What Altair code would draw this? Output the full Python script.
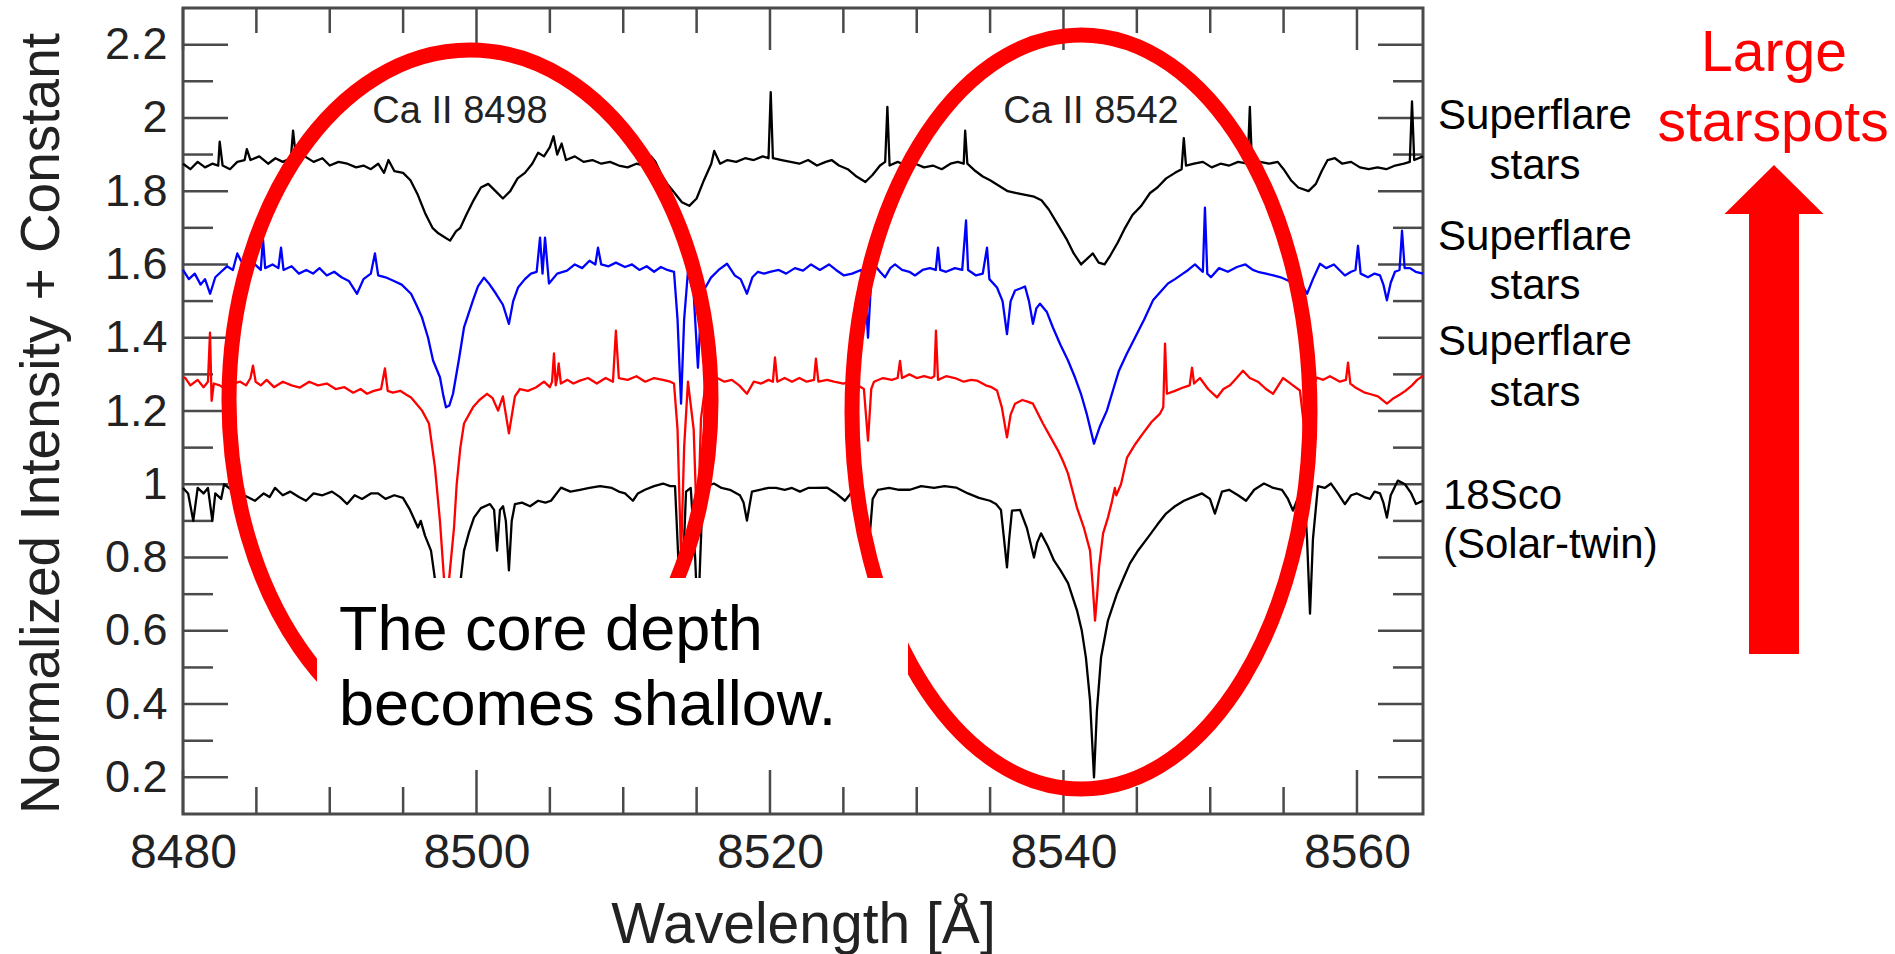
import altair as alt
import pandas as pd

FONT = "Liberation Sans"

# ---------------- axis definitions ----------------
X_DOMAIN = [8480, 8564.5]
Y_DOMAIN = [0.1, 2.3]
X_MAJOR = [8480, 8500, 8520, 8540, 8560]
X_MINOR = [8485, 8490, 8495, 8505, 8510, 8515, 8525, 8530, 8535, 8545, 8550, 8555]
Y_MAJOR = [0.2, 0.4, 0.6, 0.8, 1.0, 1.2, 1.4, 1.6, 1.8, 2.0, 2.2]
Y_MINOR = [0.3, 0.5, 0.7, 0.9, 1.1, 1.3, 1.5, 1.7, 1.9, 2.1]

# ---------------- spectra (wavelength [A], normalized intensity + constant) ----------------
SPEC_TOP = [(8480.0,1.875),(8480.5,1.86),(8481.0,1.88),(8481.5,1.865),(8482.0,1.875),(8482.4,1.87),(8482.5,1.935),(8482.7,1.87),(8483.2,1.86),(8483.7,1.88),(8484.2,1.885),(8484.35,1.915),(8484.6,1.885),(8485.2,1.895),(8485.8,1.875),(8486.3,1.89),(8486.8,1.88),(8487.35,1.89),(8487.5,1.965),(8487.7,1.89),(8488.3,1.895),(8488.9,1.88),(8489.5,1.89),(8490.0,1.87),(8490.6,1.88),(8491.2,1.875),(8491.8,1.865),(8492.3,1.87),(8492.8,1.86),(8493.3,1.875),(8493.7,1.85),(8494.0,1.885),(8494.4,1.855),(8495.0,1.85),(8495.5,1.83),(8496.0,1.79),(8496.5,1.74),(8497.0,1.70),(8497.4,1.685),(8497.8,1.675),(8498.2,1.665),(8498.6,1.69),(8498.9,1.70),(8499.3,1.735),(8499.8,1.775),(8500.3,1.81),(8500.8,1.82),(8501.3,1.80),(8501.8,1.78),(8502.3,1.80),(8502.8,1.835),(8503.3,1.85),(8503.8,1.875),(8504.2,1.905),(8504.6,1.895),(8505.0,1.92),(8505.25,1.95),(8505.5,1.90),(8505.8,1.93),(8506.1,1.885),(8506.7,1.895),(8507.3,1.88),(8507.9,1.885),(8508.5,1.875),(8509.1,1.88),(8509.7,1.87),(8510.3,1.865),(8510.9,1.875),(8511.4,1.87),(8511.9,1.895),(8512.2,1.88),(8512.6,1.845),(8513.0,1.82),(8513.5,1.795),(8514.0,1.77),(8514.5,1.76),(8515.0,1.78),(8515.5,1.83),(8516.0,1.875),(8516.2,1.91),(8516.6,1.875),(8517.1,1.885),(8517.7,1.88),(8518.3,1.89),(8518.9,1.885),(8519.5,1.895),(8519.9,1.89),(8520.05,2.07),(8520.2,1.89),(8520.8,1.885),(8521.4,1.88),(8522.0,1.875),(8522.6,1.885),(8523.2,1.87),(8523.8,1.88),(8524.2,1.885),(8524.7,1.87),(8525.3,1.86),(8525.9,1.84),(8526.5,1.825),(8527.0,1.845),(8527.5,1.87),(8527.85,1.88),(8528.0,2.03),(8528.15,1.87),(8528.7,1.88),(8529.3,1.87),(8529.9,1.875),(8530.5,1.865),(8531.1,1.87),(8531.7,1.86),(8532.3,1.875),(8532.8,1.88),(8533.2,1.875),(8533.3,1.965),(8533.45,1.875),(8534.0,1.855),(8534.5,1.84),(8535.0,1.83),(8535.6,1.815),(8536.2,1.80),(8536.8,1.795),(8537.4,1.79),(8538.0,1.785),(8538.5,1.775),(8539.0,1.75),(8539.6,1.71),(8540.2,1.67),(8540.7,1.63),(8541.2,1.60),(8541.6,1.615),(8542.0,1.63),(8542.4,1.605),(8542.8,1.60),(8543.2,1.625),(8543.7,1.66),(8544.2,1.70),(8544.7,1.735),(8545.3,1.76),(8545.9,1.795),(8546.4,1.81),(8547.0,1.835),(8547.6,1.85),(8548.05,1.86),(8548.2,1.945),(8548.35,1.87),(8548.9,1.875),(8549.5,1.88),(8550.1,1.865),(8550.7,1.875),(8551.3,1.87),(8551.9,1.88),(8552.55,1.875),(8552.7,2.03),(8552.85,1.87),(8553.4,1.88),(8554.0,1.875),(8554.6,1.88),(8555.0,1.86),(8555.5,1.83),(8556.0,1.81),(8556.7,1.80),(8557.2,1.82),(8557.6,1.855),(8558.0,1.885),(8558.5,1.89),(8559.0,1.875),(8559.6,1.88),(8560.2,1.865),(8560.8,1.86),(8561.4,1.865),(8562.0,1.86),(8562.6,1.87),(8563.2,1.875),(8563.6,1.88),(8563.75,2.045),(8563.9,1.885),(8564.5,1.895)]

SPEC_BLUE = [(8480.0,1.585),(8480.4,1.56),(8480.8,1.575),(8481.2,1.545),(8481.5,1.56),(8481.85,1.52),(8482.2,1.565),(8482.6,1.58),(8483.0,1.595),(8483.4,1.585),(8483.7,1.63),(8483.95,1.61),(8484.4,1.59),(8484.9,1.6),(8485.3,1.585),(8485.45,1.67),(8485.6,1.59),(8486.1,1.6),(8486.5,1.59),(8486.68,1.646),(8486.85,1.585),(8487.4,1.595),(8487.9,1.575),(8488.4,1.585),(8488.86,1.575),(8489.3,1.59),(8489.8,1.57),(8490.3,1.58),(8490.8,1.565),(8491.3,1.555),(8491.86,1.52),(8492.3,1.56),(8492.8,1.575),(8493.08,1.63),(8493.3,1.57),(8493.8,1.565),(8494.3,1.556),(8494.9,1.545),(8495.54,1.52),(8495.9,1.49),(8496.29,1.455),(8496.7,1.40),(8497.04,1.338),(8497.51,1.292),(8497.75,1.24),(8497.92,1.21),(8498.15,1.215),(8498.4,1.247),(8498.8,1.34),(8499.15,1.428),(8499.76,1.502),(8500.1,1.54),(8500.51,1.564),(8500.9,1.545),(8501.33,1.52),(8501.8,1.49),(8502.21,1.438),(8502.5,1.50),(8502.83,1.537),(8503.3,1.56),(8503.71,1.575),(8504.1,1.58),(8504.33,1.673),(8504.5,1.575),(8504.67,1.673),(8504.94,1.548),(8505.5,1.575),(8506.17,1.583),(8506.7,1.60),(8507.2,1.59),(8507.7,1.61),(8508.1,1.6),(8508.28,1.646),(8508.5,1.6),(8509.0,1.595),(8509.5,1.605),(8510.12,1.593),(8510.6,1.6),(8511.1,1.585),(8511.6,1.595),(8512.1,1.58),(8512.57,1.593),(8513.0,1.585),(8513.46,1.58),(8513.7,1.45),(8513.94,1.22),(8514.15,1.45),(8514.41,1.58),(8514.8,1.52),(8515.09,1.318),(8515.35,1.52),(8515.98,1.564),(8516.5,1.585),(8517.07,1.602),(8517.6,1.57),(8518.0,1.56),(8518.43,1.52),(8518.8,1.565),(8519.18,1.58),(8519.6,1.575),(8520.0,1.58),(8520.6,1.585),(8521.1,1.575),(8521.7,1.59),(8522.25,1.583),(8522.8,1.60),(8523.4,1.585),(8524.02,1.60),(8524.5,1.585),(8525.04,1.57),(8525.6,1.575),(8526.2,1.585),(8526.45,1.56),(8526.68,1.40),(8526.9,1.56),(8527.09,1.60),(8527.5,1.58),(8527.84,1.565),(8528.2,1.59),(8528.52,1.60),(8529.0,1.585),(8529.5,1.58),(8529.88,1.57),(8530.4,1.585),(8530.9,1.59),(8531.3,1.585),(8531.45,1.646),(8531.6,1.585),(8532.0,1.58),(8532.6,1.59),(8533.1,1.585),(8533.36,1.72),(8533.5,1.585),(8534.04,1.57),(8534.5,1.575),(8534.79,1.646),(8534.95,1.56),(8535.47,1.537),(8535.85,1.5),(8536.15,1.41),(8536.4,1.5),(8536.7,1.529),(8537.1,1.535),(8537.38,1.54),(8537.65,1.5),(8537.92,1.438),(8538.15,1.48),(8538.4,1.493),(8538.87,1.47),(8539.28,1.428),(8539.8,1.38),(8540.31,1.338),(8540.8,1.29),(8541.19,1.247),(8541.6,1.19),(8542.08,1.111),(8542.5,1.16),(8542.96,1.201),(8543.4,1.26),(8543.78,1.31),(8544.3,1.355),(8544.87,1.40),(8545.5,1.45),(8546.1,1.502),(8546.6,1.525),(8547.12,1.548),(8547.6,1.56),(8548.14,1.575),(8548.5,1.585),(8548.96,1.60),(8549.5,1.58),(8549.64,1.755),(8549.8,1.575),(8550.05,1.565),(8550.6,1.59),(8551.2,1.58),(8551.82,1.593),(8552.4,1.60),(8552.9,1.585),(8553.25,1.58),(8553.8,1.575),(8554.3,1.57),(8554.8,1.565),(8555.3,1.556),(8555.8,1.545),(8556.32,1.54),(8556.6,1.52),(8557.0,1.56),(8557.48,1.602),(8557.9,1.59),(8558.43,1.60),(8558.8,1.585),(8559.18,1.57),(8559.6,1.58),(8559.9,1.585),(8560.07,1.651),(8560.25,1.575),(8560.75,1.565),(8561.2,1.575),(8561.57,1.57),(8561.8,1.545),(8562.04,1.502),(8562.3,1.55),(8562.59,1.58),(8562.9,1.585),(8563.07,1.692),(8563.25,1.59),(8563.61,1.59),(8564.0,1.58),(8564.5,1.575)]

SPEC_RED = [(8480.0,1.29),(8480.14,1.291),(8480.5,1.27),(8481.0,1.285),(8481.4,1.265),(8481.7,1.28),(8481.84,1.414),(8481.95,1.228),(8482.1,1.275),(8482.5,1.27),(8482.9,1.26),(8483.4,1.275),(8483.9,1.28),(8484.3,1.27),(8484.6,1.29),(8484.77,1.324),(8484.95,1.28),(8485.3,1.27),(8485.7,1.285),(8486.2,1.265),(8486.8,1.28),(8487.4,1.27),(8487.97,1.264),(8488.6,1.28),(8489.2,1.27),(8489.8,1.275),(8490.4,1.26),(8491.0,1.265),(8491.6,1.25),(8492.1,1.26),(8492.54,1.247),(8493.0,1.255),(8493.5,1.26),(8493.76,1.316),(8493.95,1.255),(8494.3,1.25),(8494.8,1.255),(8495.2,1.245),(8495.54,1.237),(8495.9,1.22),(8496.29,1.201),(8496.76,1.166),(8497.17,1.046),(8497.51,0.90),(8497.79,0.74),(8497.98,0.70),(8498.13,0.74),(8498.47,0.882),(8498.65,1.0),(8498.9,1.10),(8499.15,1.166),(8499.76,1.21),(8500.2,1.23),(8500.72,1.247),(8501.1,1.235),(8501.47,1.201),(8501.8,1.24),(8502.21,1.139),(8502.62,1.24),(8502.96,1.26),(8503.5,1.255),(8504.05,1.264),(8504.6,1.28),(8505.0,1.265),(8505.15,1.28),(8505.28,1.357),(8505.4,1.27),(8505.5,1.29),(8505.6,1.33),(8505.75,1.275),(8506.2,1.285),(8506.6,1.275),(8507.05,1.283),(8507.6,1.29),(8508.2,1.275),(8508.8,1.29),(8509.3,1.28),(8509.5,1.419),(8509.7,1.29),(8510.3,1.285),(8510.9,1.295),(8511.5,1.28),(8512.1,1.29),(8512.7,1.285),(8513.2,1.28),(8513.46,1.275),(8513.7,1.15),(8513.94,0.80),(8514.15,1.10),(8514.41,1.28),(8514.8,1.15),(8515.05,0.85),(8515.3,1.18),(8515.6,1.27),(8515.98,1.283),(8516.4,1.29),(8516.9,1.28),(8517.4,1.285),(8517.9,1.27),(8518.43,1.247),(8518.9,1.28),(8519.4,1.275),(8519.9,1.285),(8520.2,1.28),(8520.34,1.346),(8520.5,1.28),(8521.0,1.29),(8521.5,1.28),(8522.0,1.29),(8522.5,1.28),(8523.0,1.285),(8523.13,1.343),(8523.3,1.28),(8523.9,1.285),(8524.36,1.28),(8525.0,1.275),(8525.5,1.28),(8526.0,1.27),(8526.4,1.26),(8526.68,1.119),(8526.9,1.26),(8527.09,1.28),(8527.7,1.29),(8528.3,1.285),(8528.7,1.29),(8528.86,1.337),(8529.0,1.29),(8529.5,1.30),(8530.0,1.29),(8530.5,1.295),(8531.0,1.29),(8531.2,1.295),(8531.31,1.419),(8531.45,1.285),(8532.0,1.295),(8532.6,1.29),(8533.2,1.28),(8533.7,1.285),(8534.1,1.283),(8534.7,1.27),(8535.1,1.265),(8535.47,1.256),(8535.8,1.21),(8536.15,1.128),(8536.4,1.19),(8536.7,1.22),(8537.2,1.23),(8537.6,1.225),(8537.92,1.22),(8538.3,1.19),(8538.6,1.166),(8539.1,1.13),(8539.63,1.092),(8540.0,1.06),(8540.31,1.029),(8540.6,0.985),(8540.92,0.936),(8541.4,0.88),(8541.81,0.819),(8542.0,0.72),(8542.15,0.628),(8542.3,0.70),(8542.42,0.773),(8542.7,0.866),(8543.03,0.909),(8543.3,0.952),(8543.5,0.99),(8543.6,0.97),(8543.92,1.0),(8544.33,1.073),(8544.9,1.11),(8545.42,1.139),(8546.0,1.17),(8546.58,1.193),(8546.8,1.21),(8546.92,1.384),(8547.05,1.247),(8547.6,1.255),(8548.14,1.264),(8548.6,1.27),(8548.76,1.318),(8548.9,1.275),(8549.3,1.29),(8549.85,1.26),(8550.46,1.237),(8550.9,1.26),(8551.35,1.27),(8551.8,1.29),(8552.23,1.31),(8552.7,1.29),(8553.25,1.28),(8553.8,1.26),(8554.28,1.247),(8554.96,1.29),(8555.3,1.28),(8555.64,1.27),(8556.11,1.256),(8556.45,1.139),(8556.8,1.25),(8557.27,1.291),(8557.7,1.285),(8558.16,1.295),(8558.84,1.28),(8559.25,1.285),(8559.39,1.332),(8559.55,1.275),(8559.86,1.265),(8560.54,1.25),(8561.0,1.245),(8561.43,1.24),(8562.04,1.22),(8562.5,1.235),(8562.93,1.245),(8563.3,1.255),(8563.75,1.27),(8564.1,1.285),(8564.5,1.296)]

SPEC_SCO = [(8480.0,0.99),(8480.35,0.975),(8480.7,0.90),(8481.0,0.99),(8481.4,0.975),(8481.7,0.99),(8482.0,0.90),(8482.2,0.975),(8482.6,0.96),(8482.8,1.0),(8483.3,0.985),(8483.9,0.975),(8484.4,0.965),(8484.9,0.955),(8485.5,0.975),(8485.9,0.965),(8486.27,0.99),(8486.8,0.97),(8487.3,0.98),(8487.9,0.965),(8488.38,0.955),(8488.9,0.975),(8489.5,0.97),(8490.15,0.98),(8490.7,0.965),(8491.18,0.946),(8491.7,0.97),(8492.2,0.96),(8492.8,0.975),(8493.29,0.975),(8493.8,0.96),(8494.4,0.97),(8494.99,0.963),(8495.47,0.93),(8496.01,0.882),(8496.2,0.90),(8496.49,0.86),(8496.9,0.819),(8497.31,0.70),(8497.7,0.52),(8498.0,0.45),(8498.3,0.52),(8498.81,0.70),(8499.15,0.819),(8499.5,0.87),(8499.83,0.909),(8500.3,0.935),(8500.92,0.946),(8501.2,0.93),(8501.4,0.819),(8501.6,0.93),(8501.81,0.94),(8502.0,0.90),(8502.21,0.765),(8502.4,0.90),(8502.62,0.946),(8503.1,0.95),(8503.65,0.94),(8504.2,0.955),(8504.7,0.95),(8505.08,0.955),(8505.76,0.991),(8506.4,0.98),(8507.05,0.985),(8507.7,0.99),(8508.42,0.995),(8509.23,0.99),(8509.7,0.98),(8510.12,0.975),(8510.66,0.955),(8511.0,0.975),(8511.48,0.985),(8512.1,0.995),(8512.71,1.002),(8513.2,0.995),(8513.53,0.995),(8513.75,0.80),(8513.94,0.60),(8514.1,0.80),(8514.28,0.98),(8514.6,0.99),(8514.9,0.80),(8515.09,0.62),(8515.25,0.80),(8515.43,0.99),(8516.18,1.002),(8516.7,0.99),(8517.27,0.985),(8517.95,0.97),(8518.2,0.95),(8518.43,0.901),(8518.77,0.98),(8519.3,0.985),(8519.9,0.99),(8520.41,0.99),(8521.0,0.985),(8521.5,0.99),(8522.04,0.98),(8522.6,0.99),(8523.07,0.99),(8523.88,0.991),(8524.5,0.975),(8525.11,0.955),(8525.5,0.975),(8525.93,0.99),(8526.4,0.96),(8526.75,0.838),(8527.0,0.96),(8527.36,0.985),(8528.11,0.99),(8528.8,0.985),(8529.54,0.985),(8530.3,0.995),(8531.18,0.99),(8531.9,0.995),(8532.68,0.991),(8533.49,0.975),(8534.24,0.963),(8534.99,0.955),(8535.4,0.946),(8535.74,0.93),(8535.95,0.85),(8536.15,0.773),(8536.3,0.85),(8536.49,0.928),(8537.04,0.93),(8537.51,0.88),(8537.99,0.80),(8538.2,0.84),(8538.47,0.866),(8538.94,0.83),(8539.35,0.792),(8539.8,0.765),(8540.31,0.73),(8540.92,0.656),(8541.25,0.60),(8541.53,0.527),(8541.81,0.41),(8542.08,0.20),(8542.28,0.383),(8542.56,0.527),(8543.03,0.628),(8543.65,0.702),(8544.1,0.745),(8544.53,0.784),(8545.1,0.82),(8545.76,0.855),(8546.4,0.89),(8546.99,0.92),(8547.6,0.94),(8548.21,0.955),(8548.8,0.965),(8549.44,0.975),(8549.98,0.96),(8550.32,0.92),(8550.8,0.98),(8551.28,0.985),(8551.9,0.97),(8552.44,0.955),(8553.0,0.985),(8553.66,1.002),(8554.3,0.99),(8554.89,0.985),(8555.3,0.96),(8555.64,0.928),(8556.0,0.965),(8556.39,0.99),(8556.6,0.85),(8556.8,0.647),(8557.0,0.85),(8557.34,0.995),(8557.8,0.99),(8558.23,1.002),(8558.7,0.975),(8559.18,0.946),(8559.6,0.97),(8560.0,0.975),(8560.5,0.965),(8560.89,0.96),(8561.2,0.98),(8561.57,0.975),(8561.8,0.95),(8562.04,0.909),(8562.3,0.97),(8562.79,1.01),(8563.27,1.0),(8563.7,0.975),(8564.02,0.946),(8564.5,0.955)]

# ---------------- layout (pixels) ----------------
W, H = 1240, 806            # plot area
OX, OY = 183, 8             # plot-area origin on the page
INK = "#222222"
FRAME = "#4a4a4a"

xscale = alt.Scale(domain=X_DOMAIN, nice=False, zero=False)
yscale = alt.Scale(domain=Y_DOMAIN, nice=False, zero=False)

AXIS_X = alt.Axis(values=X_MAJOR, format="d", ticks=False, tickSize=0, domain=False, grid=False,
                  labelFontSize=48, labelPadding=15, labelFlush=False, labelOverlap=False,
                  labelColor=INK, labelFont=FONT,
                  title="Wavelength [Å]", titleFontSize=57, titleFont=FONT, titleFontWeight="normal",
                  titleColor=INK, titleX=W / 2, titleY=128, titleBaseline="alphabetic", titleAlign="center")
AXIS_Y = alt.Axis(values=Y_MAJOR, format="~g", ticks=False, tickSize=0, domain=False, grid=False,
                  labelFontSize=45, labelPadding=16, labelOverlap=False, labelFlush=False,
                  labelColor=INK, labelFont=FONT,
                  title="Normalized Intensity + Constant", titleFontSize=55, titleFont=FONT,
                  titleFontWeight="normal", titleColor=INK, titleAngle=270, titleX=-125, titleY=415,
                  titleBaseline="alphabetic", titleAlign="center")


def X(field="wl"):
    return alt.X(f"{field}:Q", scale=xscale, axis=AXIS_X)


def Y(field="inten"):
    return alt.Y(f"{field}:Q", scale=yscale, axis=AXIS_Y)


def spec_df(pairs):
    return pd.DataFrame(pairs, columns=["wl", "inten"])


one = pd.DataFrame({"k": [0]})
layers = []

# ---- inward frame ticks ----
TICK_W = 2.5
ymaj = pd.DataFrame({"inten": Y_MAJOR})
ymin = pd.DataFrame({"inten": Y_MINOR})
xmaj = pd.DataFrame({"wl": X_MAJOR})
xmin = pd.DataFrame({"wl": X_MINOR})
for df, length in ((ymaj, 45), (ymin, 30)):
    layers.append(alt.Chart(df).mark_rule(color=FRAME, strokeWidth=TICK_W).encode(
        y=Y(), x=alt.value(0), x2=alt.value(length)))
    layers.append(alt.Chart(df).mark_rule(color=FRAME, strokeWidth=TICK_W).encode(
        y=Y(), x=alt.value(W), x2=alt.value(W - length)))
for df, bot, top in ((xmaj, 44, 42), (xmin, 27, 25)):
    layers.append(alt.Chart(df).mark_rule(color=FRAME, strokeWidth=TICK_W).encode(
        x=X(), y=alt.value(H), y2=alt.value(H - bot)))
    layers.append(alt.Chart(df).mark_rule(color=FRAME, strokeWidth=TICK_W).encode(
        x=X(), y=alt.value(0), y2=alt.value(top)))

# ---- spectra ----
for pairs, col in ((SPEC_SCO, "#000000"), (SPEC_TOP, "#000000"), (SPEC_BLUE, "#0000ff"), (SPEC_RED, "#ff0000")):
    layers.append(alt.Chart(spec_df(pairs)).mark_line(color=col, strokeWidth=2.3, strokeJoin="round").encode(
        x=X(), y=Y(), order="wl:Q"))


# ---- helpers for overlays ----
def text(s, x, y, size, color="#000000", align="center"):
    return alt.Chart(one).mark_text(text=s, align=align, baseline="alphabetic", fontSize=size,
                                    color=color, font=FONT).encode(x=alt.value(x - OX), y=alt.value(y - OY))


def ellipse(cx, cy, a, b, width=15):
    r = a / b
    k = 0.5523
    path = (f"M {r:.4f} 0 C {r:.4f} {k} {r*k:.4f} 1 0 1 "
            f"C {-r*k:.4f} 1 {-r:.4f} {k} {-r:.4f} 0 "
            f"C {-r:.4f} {-k} {-r*k:.4f} -1 0 -1 "
            f"C {r*k:.4f} -1 {r:.4f} {-k} {r:.4f} 0 Z")
    return alt.Chart(one).mark_point(shape=path, size=(2 * b) ** 2, filled=False, stroke="#ff0000",
                                     color="#ff0000", strokeWidth=width, opacity=1).encode(
        x=alt.value(cx - OX), y=alt.value(cy - OY))


# labels of the lines (part of original figure)
layers.append(text("Ca II 8498", 460, 123, 38, INK))
layers.append(text("Ca II 8542", 1091, 123, 38, INK))

# red ellipses
layers.append(ellipse(470, 400, 241, 350))
layers.append(ellipse(1081, 412, 229, 377))

# white box behind the note
layers.append(alt.Chart(one).mark_rect(color="#ffffff").encode(
    x=alt.value(317 - OX), x2=alt.value(908 - OX), y=alt.value(578 - OY), y2=alt.value(765 - OY)))
layers.append(text("The core depth", 339, 650, 63, "#000000", "left"))
layers.append(text("becomes shallow.", 339, 725, 63, "#000000", "left"))

# right-hand series labels
for y1, y2 in ((129, 179), (250, 299), (355, 406)):
    layers.append(text("Superflare", 1535, y1, 42))
    layers.append(text("stars", 1535, y2, 42))
layers.append(text("18Sco", 1443, 509, 42, align="left"))
layers.append(text("(Solar-twin)", 1443, 558, 42, align="left"))

# "Large starspots" + arrow
layers.append(text("Large", 1774, 71, 57, "#ff0000"))
layers.append(text("starspots", 1773, 141, 57, "#ff0000"))
hw_head, hw_shaft, y_base = 0.2025, 0.1022, -0.7996
arrow_path = (f"M 0 -1 L {hw_head} {y_base} L {hw_shaft} {y_base} L {hw_shaft} 1 "
              f"L {-hw_shaft} 1 L {-hw_shaft} {y_base} L {-hw_head} {y_base} Z")
layers.append(alt.Chart(one).mark_point(shape=arrow_path, size=489 ** 2, filled=True, fill="#ff0000",
                                        color="#ff0000", strokeWidth=0, opacity=1).encode(
    x=alt.value(1774 - OX), y=alt.value(409.5 - OY)))

chart = alt.layer(*layers).properties(
    width=W, height=H,
    padding={"left": OX, "top": OY, "right": 1895 - OX - W, "bottom": 954 - OY - H},
    autosize=alt.AutoSizeParams(type="none"),
).configure(font=FONT, background="#ffffff").configure_view(stroke=FRAME, strokeWidth=3)

chart.save("out.html", embed_options={"renderer": "svg", "actions": False})
